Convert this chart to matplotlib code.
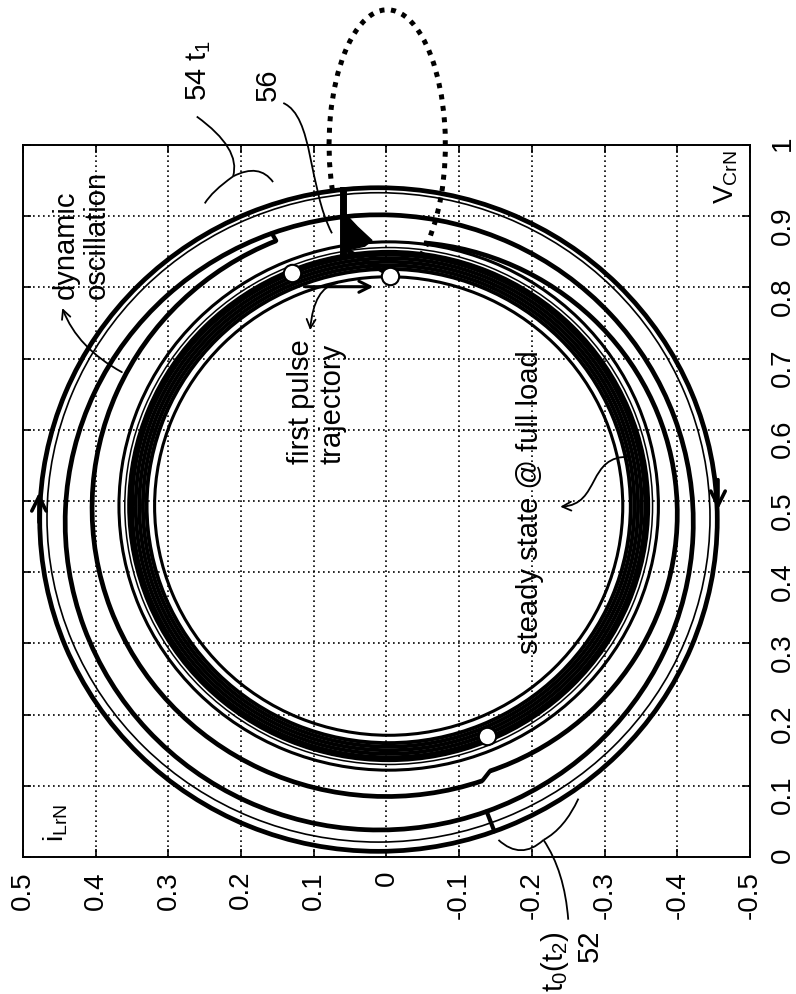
import numpy as np
import matplotlib
matplotlib.use("Agg")
import matplotlib.pyplot as plt
from matplotlib.patches import Arc, FancyArrowPatch, PathPatch, Polygon
from matplotlib.path import Path

plt.rcParams["font.family"] = ["Liberation Sans", "DejaVu Sans"]
plt.rcParams["mathtext.fontset"] = "custom"
plt.rcParams["mathtext.rm"] = "Liberation Sans"
plt.rcParams["mathtext.it"] = "Liberation Sans:italic"
plt.rcParams["mathtext.default"] = "regular"

# axes: horizontal = i_LrN (reversed), vertical = V_CrN
I_TICKS = [0.5, 0.4, 0.3, 0.2, 0.1, 0.0, -0.1, -0.2, -0.3, -0.4, -0.5]
I_LABELS = ["0.5", "0.4", "0.3", "0.2", "0.1", "0", "-0.1", "-0.2", "-0.3", "-0.4", "-0.5"]
V_TICKS = [0.0, 0.1, 0.2, 0.3, 0.4, 0.5, 0.6, 0.7, 0.8, 0.9, 1.0]
V_LABELS = ["0", "0.1", "0.2", "0.3", "0.4", "0.5", "0.6", "0.7", "0.8", "0.9", "1"]

# steady state @ full load: tight band of orbits
BAND_CENTER = (-0.003, 0.493)
BAND_RADII = [0.333, 0.338, 0.343, 0.348, 0.353, 0.357]
RING_RADII = [0.322, 0.363, 0.371]
RING_LW = [2.2, 1.1, 2.2]

# dynamic oscillation, closed outer orbits
LOOP_CI = [0.011, 0.011]
LOOP_CV = [0.474, 0.477]
LOOP_R = [0.466, 0.456]
LOOP_LW = [3.4, 1.2]

# dynamic oscillation, spiral arcs (deg, counted in data space)
ARC_CI = [-0.018, 0.000, 0.010]
ARC_CV = [0.482, 0.490, 0.470]
ARC_R = [0.382, 0.405, 0.432]
ARC_T1 = [95, 251, 70]
ARC_T2 = [251, 428, 430]
STEP_OUT = 250  # C steps out onto the outer orbit here

# first pulse trajectory
PULSE_I = [0.060, 0.060]
PULSE_V = [0.937, 0.850]
WEDGE_I = [0.063, 0.040, 0.020, 0.030, 0.056]
WEDGE_V = [0.910, 0.885, 0.866, 0.858, 0.852]
DROP_I = [0.057, 0.000]
DROP_V = [0.854, 0.820]
STEP_I = [0.112, 0.018]
STEP_V = [0.801, 0.801]

# switching instants
MARK_I = [0.130, -0.005, -0.138]
MARK_V = [0.820, 0.816, 0.170]

# dotted excursion
ELL_CENTER = (-0.001, 1.0)
ELL_W, ELL_H = 0.16, 0.38


def pt(ci, cv, r, deg):
    a = np.deg2rad(deg)
    return ci + r * np.cos(a), cv + r * np.sin(a)


fig = plt.figure(figsize=(7.96, 9.94), dpi=100)
ax = fig.add_axes([0.0289, 0.1378, 0.9133, 0.7163])
ax.set_xlim(0.5, -0.5)
ax.set_ylim(0, 1)
ax.set_axisbelow(True)
ax.grid(True, color="k", linestyle=(0, (1, 2)), linewidth=1.2)
for s in ax.spines.values():
    s.set_linewidth(1.4)

ax.set_xticks(I_TICKS)
ax.set_xticklabels(I_LABELS, rotation=90)
ax.set_yticks(V_TICKS)
ax.set_yticklabels(V_LABELS, rotation=90)
ax.tick_params(direction="in", length=6, width=1.2, top=True, right=True,
               labelleft=False, labelright=True, labelsize=20)
ax.tick_params(axis="x", pad=10)
ax.tick_params(axis="y", pad=14)

for r in BAND_RADII:
    ax.add_patch(Arc(BAND_CENTER, 2 * r, 2 * r, lw=2.8, color="k"))
for r, lw in zip(RING_RADII, RING_LW):
    ax.add_patch(Arc(BAND_CENTER, 2 * r, 2 * r, lw=lw, color="k"))
for ci, cv, r, lw in zip(LOOP_CI, LOOP_CV, LOOP_R, LOOP_LW):
    ax.add_patch(Arc((ci, cv), 2 * r, 2 * r, lw=lw, color="k"))

for ci, cv, r, t1, t2 in zip(ARC_CI, ARC_CV, ARC_R, ARC_T1, ARC_T2):
    ax.add_patch(Arc((ci, cv), 2 * r, 2 * r, theta1=t1, theta2=t2, lw=3.4, color="k"))

# small switching jogs between consecutive arcs
jogs = [
    (pt(ARC_CI[0], ARC_CV[0], ARC_R[0], ARC_T2[0]), pt(ARC_CI[1], ARC_CV[1], ARC_R[1], ARC_T1[1])),
    (pt(ARC_CI[1], ARC_CV[1], ARC_R[1], ARC_T2[1]), pt(ARC_CI[2], ARC_CV[2], ARC_R[2], ARC_T1[2])),
    (pt(ARC_CI[2], ARC_CV[2], ARC_R[2], STEP_OUT), pt(LOOP_CI[0], LOOP_CV[0], LOOP_R[0], STEP_OUT)),
]
for a, b in jogs:
    ax.plot([a[0], b[0]], [a[1], b[1]], color="k", lw=3.0, solid_capstyle="round")

ax.plot(PULSE_I, PULSE_V, color="k", lw=5)
ax.add_patch(Polygon(list(zip(WEDGE_I, WEDGE_V)), closed=True, color="k", lw=1))
ax.plot(DROP_I, DROP_V, color="k", lw=3.2)
ax.annotate("", xy=(STEP_I[1], STEP_V[1]), xytext=(STEP_I[0], STEP_V[0]),
            arrowprops=dict(arrowstyle="->", lw=2.2, color="k", mutation_scale=20,
                            shrinkA=0, shrinkB=0))

ax.plot(MARK_I, MARK_V, "o", ms=12.5, mfc="white", mec="k", mew=1.5, zorder=6)

ax.add_patch(Arc(ELL_CENTER, ELL_W, ELL_H, theta1=-40, theta2=253, lw=3.6,
                 color="k", linestyle=(0, (1, 1.3)), clip_on=False))

# direction arrows on the outer orbit
ax.annotate("", xy=(0.478, 0.512), xytext=(0.478, 0.47),
            arrowprops=dict(arrowstyle="->", lw=2.6, color="k", mutation_scale=26,
                            shrinkA=0, shrinkB=0))
ax.annotate("", xy=(-0.456, 0.488), xytext=(-0.456, 0.53),
            arrowprops=dict(arrowstyle="->", lw=2.6, color="k", mutation_scale=26,
                            shrinkA=0, shrinkB=0))

# labels
ax.text(0.045, 0.021, r"i$_{LrN}$", transform=ax.transAxes, rotation=90,
        ha="center", va="bottom", fontsize=20)
ax.text(0.968, 0.993, r"V$_{CrN}$", transform=ax.transAxes, rotation=90,
        ha="center", va="top", fontsize=20)
ax.text(-0.197, 0.499, "steady state @ full load", rotation=90,
        ha="center", va="center", fontsize=21)
ax.text(0.096, 0.639, "first pulse\ntrajectory", rotation=90, ha="center",
        va="center", multialignment="left", fontsize=21, linespacing=1.15)
ax.text(0.42, 0.874, "dynamic\noscillation", rotation=90, ha="center",
        va="center", multialignment="left", fontsize=21, linespacing=1.15)
ax.text(0.259, 1.105, r"54 t$_1$", rotation=90, ha="center", va="center",
        fontsize=21, clip_on=False)
ax.text(0.163, 1.084, "56", rotation=90, ha="center", va="center",
        fontsize=21, clip_on=False)
ax.text(-0.232, -0.147, r"t$_0$(t$_2$)", rotation=90, ha="center", va="center",
        fontsize=21, clip_on=False)
ax.text(-0.28, -0.124, "52", rotation=90, ha="center", va="center",
        fontsize=21, clip_on=False)

# leader lines
C3, C4, M = Path.CURVE3, Path.CURVE4, Path.MOVETO
leaders = [
    ([(0.261, 1.040), (0.200, 0.995), (0.211, 0.956)], [M, C3, C3]),
    ([(0.211, 0.956), (0.240, 0.935), (0.250, 0.918)], [M, C3, C3]),
    ([(0.211, 0.956), (0.175, 0.975), (0.156, 0.948)], [M, C3, C3]),
    ([(0.142, 1.059), (0.100, 1.040), (0.108, 0.941), (0.075, 0.876)], [M, C4, C4, C4]),
    ([(-0.154, 0.024), (-0.185, -0.005), (-0.216, 0.024)], [M, C3, C3]),
    ([(-0.216, 0.024), (-0.245, 0.040), (-0.264, 0.082)], [M, C3, C3]),
    ([(-0.216, 0.024), (-0.245, -0.020), (-0.250, -0.088)], [M, C3, C3]),
]
for verts, codes in leaders:
    ax.add_patch(PathPatch(Path(verts, codes), fill=False, lw=1.3, color="k",
                           clip_on=False, zorder=7))

pointers = [
    [(0.364, 0.681), (0.425, 0.715), (0.446, 0.771)],
    [(0.068, 0.806), (0.100, 0.800), (0.105, 0.740)],
]
for verts in pointers:
    ax.add_patch(FancyArrowPatch(path=Path(verts, [M, C3, C3]), arrowstyle="->",
                                 mutation_scale=16, lw=1.3, color="k", zorder=7))
ax.add_patch(FancyArrowPatch(
    path=Path([(-0.335, 0.562), (-0.275, 0.565), (-0.295, 0.495), (-0.239, 0.492)],
              [M, C4, C4, C4]),
    arrowstyle="->", mutation_scale=16, lw=1.3, color="k", zorder=7))

fig.savefig("out.png", dpi=100)
